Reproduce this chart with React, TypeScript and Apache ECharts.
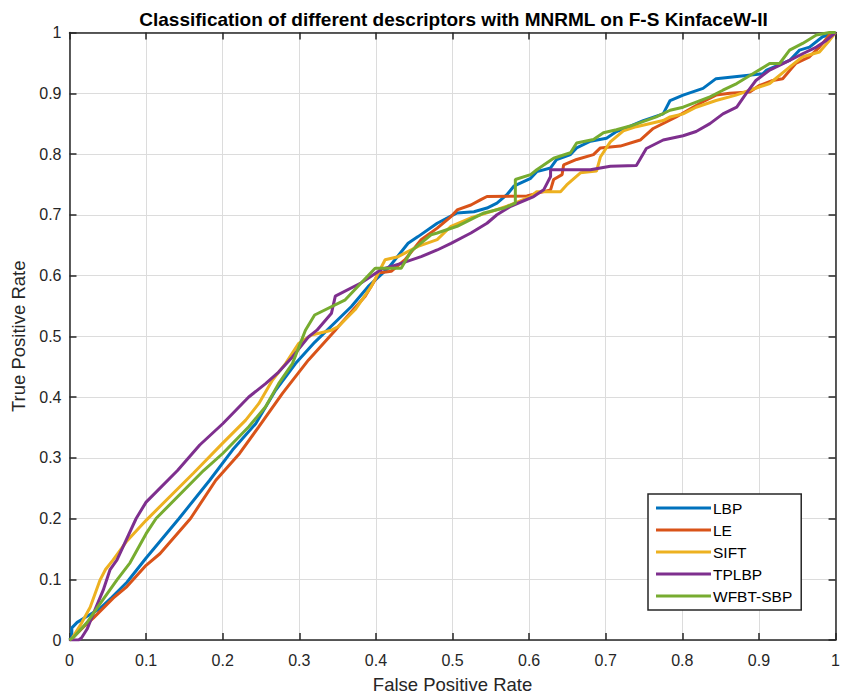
import React, { useEffect, useRef } from 'react';
import * as echarts from 'echarts';

const seriesNames = ['LBP', 'LE', 'SIFT', 'TPLBP', 'WFBT-SBP'];
const seriesColors = ['#0072BD', '#D95319', '#EDB120', '#7E2F8E', '#77AC30'];
const tickLabels = ['0', '0.1', '0.2', '0.3', '0.4', '0.5', '0.6', '0.7', '0.8', '0.9', '1'];
const chartTitle = 'Classification of different descriptors with MNRML on F-S KinfaceW-II';
const xName = 'False Positive Rate';
const yName = 'True Positive Rate';

const lbp: [number, number][] = [
  [0, 0], [0.003, 0.004], [0.003, 0.02], [0.01, 0.029], [0.023, 0.039], [0.04, 0.052], [0.055, 0.07],
  [0.075, 0.095], [0.1, 0.135], [0.143, 0.2], [0.183, 0.263], [0.213, 0.313], [0.243, 0.356], [0.269, 0.411],
  [0.295, 0.455], [0.32, 0.49], [0.368, 0.549], [0.39, 0.582], [0.416, 0.612], [0.442, 0.653], [0.455, 0.664],
  [0.48, 0.686], [0.506, 0.703], [0.528, 0.705], [0.545, 0.711], [0.558, 0.719], [0.571, 0.733], [0.58, 0.747],
  [0.602, 0.76], [0.61, 0.771], [0.628, 0.777], [0.636, 0.791], [0.654, 0.799], [0.662, 0.81], [0.68, 0.821],
  [0.701, 0.826], [0.714, 0.837], [0.732, 0.846], [0.749, 0.855], [0.775, 0.866], [0.784, 0.888], [0.801, 0.897],
  [0.827, 0.908], [0.844, 0.924], [0.905, 0.932], [0.91, 0.938], [0.94, 0.954], [0.953, 0.971], [0.966, 0.976],
  [0.983, 0.993], [1, 1],
];

const le: [number, number][] = [
  [0, 0], [0.003, 0.002], [0.018, 0.021], [0.031, 0.036], [0.057, 0.069], [0.075, 0.088], [0.1, 0.123],
  [0.118, 0.142], [0.158, 0.2], [0.191, 0.263], [0.222, 0.307], [0.247, 0.351], [0.278, 0.406], [0.312, 0.461],
  [0.347, 0.51], [0.351, 0.516], [0.386, 0.566], [0.399, 0.593], [0.403, 0.604], [0.42, 0.607], [0.438, 0.626],
  [0.459, 0.659], [0.48, 0.678], [0.498, 0.697], [0.506, 0.708], [0.524, 0.716], [0.537, 0.725], [0.545, 0.73],
  [0.597, 0.731], [0.628, 0.741], [0.632, 0.758], [0.643, 0.766], [0.645, 0.782], [0.662, 0.791], [0.684, 0.799],
  [0.693, 0.81], [0.719, 0.813], [0.745, 0.823], [0.762, 0.842], [0.792, 0.861], [0.814, 0.877], [0.827, 0.886],
  [0.844, 0.897], [0.862, 0.9], [0.888, 0.902], [0.901, 0.913], [0.918, 0.921], [0.931, 0.924], [0.944, 0.943],
  [0.948, 0.949], [0.966, 0.96], [0.979, 0.976], [0.992, 0.996], [1, 1],
];

const sift: [number, number][] = [
  [0, 0], [0.003, 0.002], [0.014, 0.024], [0.027, 0.054], [0.04, 0.099], [0.047, 0.116], [0.057, 0.132],
  [0.075, 0.163], [0.1, 0.197], [0.162, 0.275], [0.2, 0.324], [0.23, 0.362], [0.247, 0.389], [0.265, 0.428],
  [0.282, 0.455], [0.299, 0.488], [0.316, 0.502], [0.342, 0.51], [0.351, 0.516], [0.373, 0.544], [0.394, 0.582],
  [0.403, 0.604], [0.412, 0.626], [0.429, 0.631], [0.455, 0.648], [0.48, 0.659], [0.498, 0.681], [0.524, 0.695],
  [0.545, 0.703], [0.571, 0.714], [0.602, 0.73], [0.61, 0.738], [0.641, 0.738], [0.649, 0.749], [0.667, 0.769],
  [0.688, 0.772], [0.693, 0.795], [0.706, 0.82], [0.723, 0.838], [0.74, 0.845], [0.775, 0.855], [0.784, 0.861],
  [0.801, 0.866], [0.818, 0.877], [0.844, 0.888], [0.87, 0.897], [0.888, 0.905], [0.914, 0.916], [0.94, 0.943],
  [0.957, 0.96], [0.979, 0.968], [0.992, 0.987], [1, 1],
];

const tplbp: [number, number][] = [
  [0, 0], [0.012, 0], [0.016, 0.004], [0.023, 0.018], [0.031, 0.043], [0.044, 0.082], [0.053, 0.116],
  [0.062, 0.132], [0.087, 0.2], [0.1, 0.227], [0.141, 0.279], [0.17, 0.321], [0.2, 0.356], [0.234, 0.4],
  [0.256, 0.422], [0.273, 0.441], [0.291, 0.466], [0.312, 0.499], [0.323, 0.51], [0.342, 0.538], [0.347, 0.566],
  [0.381, 0.588], [0.407, 0.61], [0.433, 0.62], [0.459, 0.631], [0.48, 0.642], [0.498, 0.653], [0.524, 0.67],
  [0.545, 0.686], [0.558, 0.7], [0.576, 0.714], [0.606, 0.73], [0.619, 0.741], [0.628, 0.763], [0.628, 0.774],
  [0.68, 0.774], [0.706, 0.78], [0.74, 0.781], [0.753, 0.809], [0.775, 0.823], [0.801, 0.83], [0.818, 0.837],
  [0.836, 0.85], [0.853, 0.866], [0.871, 0.877], [0.883, 0.899], [0.896, 0.921], [0.914, 0.938], [0.94, 0.954],
  [0.957, 0.965], [0.975, 0.976], [0.988, 0.987], [1, 1],
];

const wfbtSbp: [number, number][] = [
  [0, 0], [0.005, 0.004], [0.023, 0.029], [0.04, 0.06], [0.062, 0.099], [0.079, 0.127], [0.1, 0.175],
  [0.113, 0.2], [0.175, 0.279], [0.2, 0.307], [0.234, 0.351], [0.256, 0.384], [0.273, 0.422], [0.291, 0.455],
  [0.308, 0.51], [0.32, 0.535], [0.36, 0.56], [0.381, 0.588], [0.399, 0.612], [0.433, 0.612], [0.446, 0.64],
  [0.472, 0.667], [0.48, 0.67], [0.506, 0.681], [0.541, 0.703], [0.567, 0.711], [0.582, 0.719], [0.582, 0.758],
  [0.602, 0.766], [0.61, 0.774], [0.632, 0.793], [0.654, 0.802], [0.662, 0.818], [0.684, 0.824], [0.697, 0.835],
  [0.714, 0.84], [0.732, 0.846], [0.766, 0.861], [0.784, 0.872], [0.801, 0.877], [0.836, 0.894], [0.853, 0.905],
  [0.871, 0.916], [0.892, 0.932], [0.914, 0.949], [0.927, 0.949], [0.94, 0.971], [0.957, 0.982], [0.975, 0.996],
  [0.992, 1], [1, 1],
];

const seriesData = [lbp, le, sift, tplbp, wfbtSbp];

const FONT = '"Liberation Sans", Arial, Helvetica, sans-serif';
const AXIS_COLOR = '#262626';
const GRID_COLOR = '#dcdcdc';

const labelFmt = (v: number) => tickLabels[Math.round(v * 10)] ?? String(v);

function makeAxis(position: string, showLabel: boolean, showGrid: boolean, extra: any = {}) {
  return {
    type: 'value',
    position,
    min: 0,
    max: 1,
    interval: 0.1,
    axisLine: { show: true, onZero: false, lineStyle: { color: AXIS_COLOR, width: 1.5 } },
    axisTick: { show: true, inside: true, length: 7, lineStyle: { color: AXIS_COLOR, width: 1.5 } },
    axisLabel: {
      show: showLabel,
      formatter: labelFmt,
      color: AXIS_COLOR,
      fontSize: 16,
      fontFamily: FONT,
    },
    splitLine: { show: showGrid, lineStyle: { color: GRID_COLOR, width: 1 } },
    ...extra,
  };
}

export default function App() {
  const ref = useRef<HTMLDivElement>(null);
  useEffect(() => {
    const chart = echarts.init(ref.current!, null, { renderer: 'svg' });
    const option: any = {
      animation: false,
      backgroundColor: '#ffffff',
      textStyle: { fontFamily: FONT },
      grid: { left: 69.5, top: 32.5, width: 769, height: 608, containLabel: false },
      graphic: [
        {
          type: 'text',
          x: 453.5,
          y: 19,
          style: {
            text: chartTitle,
            fill: '#000',
            font: `bold 19px ${FONT}`,
            textAlign: 'center',
            textVerticalAlign: 'middle',
          },
        },
      ],
      xAxis: [
        makeAxis('bottom', true, true, {
          axisLabel: { show: true, formatter: labelFmt, color: AXIS_COLOR, fontSize: 16, fontFamily: FONT, margin: 12 },
          name: xName,
          nameLocation: 'middle',
          nameGap: 35,
          nameTextStyle: { color: AXIS_COLOR, fontSize: 18.5, fontFamily: FONT },
        }),
        makeAxis('top', false, false),
      ],
      yAxis: [
        makeAxis('left', true, true, {
          axisLabel: { show: true, formatter: labelFmt, color: AXIS_COLOR, fontSize: 16, fontFamily: FONT, margin: 8 },
          name: yName,
          nameLocation: 'middle',
          nameGap: 42,
          nameTextStyle: { color: AXIS_COLOR, fontSize: 18.5, fontFamily: FONT },
        }),
        makeAxis('right', false, false),
      ],
      legend: {
        show: true,
        orient: 'vertical',
        left: 648,
        top: 494,
        data: seriesNames,
        icon: 'rect',
        itemWidth: 55,
        itemHeight: 3,
        itemGap: 6,
        padding: [6, 9, 6, 8],
        borderColor: AXIS_COLOR,
        borderWidth: 1.5,
        borderRadius: 0,
        backgroundColor: '#ffffff',
        textStyle: { color: '#000', fontSize: 15.5, fontFamily: FONT, lineHeight: 16, padding: [0, 0, 0, -3] },
      },
      series: seriesNames.map((name, i) => ({
        name,
        type: 'line',
        data: seriesData[i],
        showSymbol: false,
        symbol: 'none',
        color: seriesColors[i],
        lineStyle: { width: 3, color: seriesColors[i] },
        xAxisIndex: 0,
        yAxisIndex: 0,
      })),
    };
    chart.setOption(option);
    return () => chart.dispose();
  }, []);
  return (
    <div
      ref={ref}
      style={{ position: 'fixed', left: 0, top: 0, width: 843, height: 699, background: '#fff' }}
    />
  );
}
